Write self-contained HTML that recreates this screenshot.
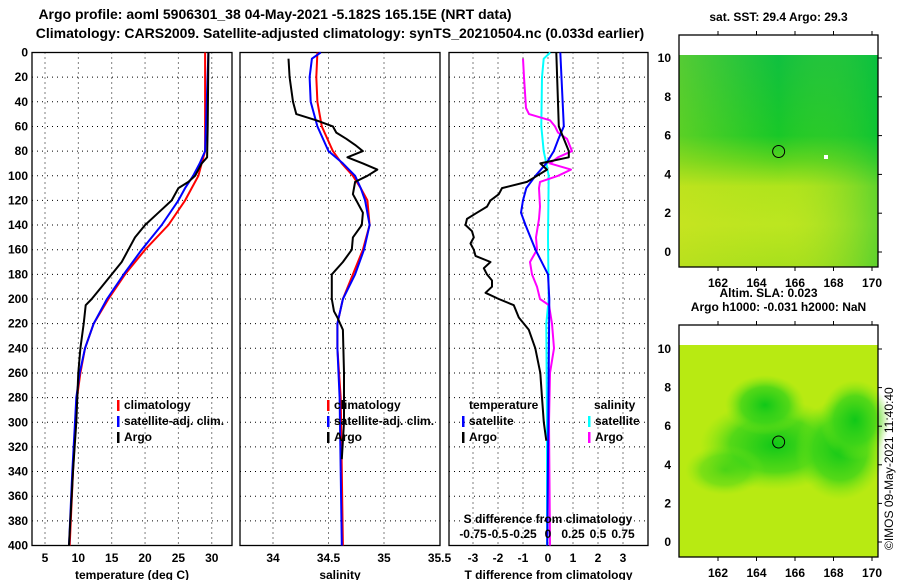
<!DOCTYPE html>
<html><head><meta charset="utf-8"><style>
body{margin:0;background:#fff;}
svg{display:block;font-family:"Liberation Sans",sans-serif;font-weight:bold;}
</style></head><body>
<svg id="c" width="900" height="580" xmlns="http://www.w3.org/2000/svg">
<defs>
<linearGradient id="g1" x1="0" y1="0" x2="0" y2="1">
<stop offset="0" stop-color="#10c040"/><stop offset="0.38" stop-color="#18c828"/><stop offset="0.5" stop-color="#5cd41e"/><stop offset="0.62" stop-color="#b0e41c"/><stop offset="0.8" stop-color="#bce620"/><stop offset="1" stop-color="#a8e01c"/></linearGradient>
<linearGradient id="g1b" x1="0" y1="0" x2="1" y2="0">
<stop offset="0" stop-color="#d8e020" stop-opacity="0.35"/><stop offset="0.5" stop-color="#c8e020" stop-opacity="0"/><stop offset="1" stop-color="#00c040" stop-opacity="0.45"/></linearGradient>
<radialGradient id="blob"><stop offset="0" stop-color="#10c818"/><stop offset="0.6" stop-color="#3cd418" stop-opacity="0.8"/><stop offset="1" stop-color="#7de614" stop-opacity="0"/></radialGradient>
</defs>
<text x="275" y="19" font-size="14" text-anchor="middle">Argo profile: aoml 5906301_38 04-May-2021 -5.182S 165.15E (NRT data)</text>
<text x="340" y="38" font-size="14" text-anchor="middle">Climatology: CARS2009. Satellite-adjusted climatology: synTS_20210504.nc (0.033d earlier)</text>
<g id="plots"></g>
<g id="maps"></g>
<text transform="translate(893,550) rotate(-90)" font-size="12" font-weight="normal">©IMOS 09-May-2021 11:40:40</text>
</svg>
<script>
// ---- data ----
const depthTicks=[0,20,40,60,80,100,120,140,160,180,200,220,240,260,280,300,320,340,360,380,400];
const tTicks=[5,10,15,20,25,30];
const sTicks=[34,34.5,35,35.5];
const dTTicks=[-3,-2,-1,0,1,2,3];
const dSTickLabels=["-0.75","-0.5","-0.25","0","0.25","0.5","0.75"];
const dSTicks=[-0.75,-0.5,-0.25,0,0.25,0.5,0.75];
// temperature
const climTD=[0,80,90,100,110,120,140,160,180,200,220,240,260,280,300,340,400];
const climT=[29.0,29.0,28.5,28.0,27.0,26.0,23.5,20.0,17.0,14.5,12.3,11.0,10.3,9.8,9.6,9.2,8.7];
const satTD=[0,80,90,100,110,120,140,160,180,200,220,240,260,280,300,340,400];
const satT=[29.5,29.0,28.2,27.2,26.0,25.0,22.5,19.5,16.8,14.3,12.3,11.0,10.2,9.7,9.5,9.1,8.6];
const argoTD=[0,60,85,90,100,105,110,120,130,140,150,170,180,190,200,205,220,240,260,300,340,400];
const argoT=[29.5,29.4,29.3,28.5,27.5,26.5,25.0,24.0,22.0,20.0,18.5,16.5,15.0,13.5,12.0,11.1,10.8,10.3,10.0,9.7,9.2,8.6];
// salinity
const climSD=[0,20,40,60,80,90,100,110,120,140,160,180,200,220,240,280,400];
const climS=[34.40,34.39,34.40,34.44,34.54,34.62,34.72,34.79,34.85,34.87,34.81,34.72,34.63,34.58,34.58,34.61,34.63];
const satSD=[0,5,20,40,60,80,90,100,110,120,140,160,180,200,220,240,260,280,400];
const satS=[34.43,34.35,34.33,34.34,34.40,34.50,34.63,34.74,34.79,34.83,34.87,34.82,34.74,34.63,34.58,34.58,34.59,34.60,34.62];
const argoSD=[5,20,40,50,55,60,65,70,75,80,85,90,95,100,105,115,120,130,140,150,160,170,180,190,200,210,215,225,260,300,330];
const argoS=[34.14,34.15,34.18,34.21,34.39,34.54,34.57,34.66,34.74,34.81,34.67,34.81,34.94,34.85,34.74,34.72,34.75,34.81,34.80,34.72,34.71,34.63,34.53,34.53,34.53,34.55,34.58,34.63,34.64,34.64,34.62];
// differences
const satDTD=[0,60,70,80,90,100,110,120,130,140,160,180,200,400];
const satDT=[0.49,0.63,0.42,0.23,-0.07,-0.5,-0.87,-1.0,-1.08,-0.9,-0.5,0,0.05,-0.03];
const argoDTD=[0,60,70,80,85,90,95,100,105,110,115,120,125,130,135,140,145,150,155,160,165,170,175,180,185,190,195,200,205,215,225,240,260,280,300,315];
const argoDT=[0.33,0.43,0.63,0.83,0.83,-0.31,-0.04,-0.44,-0.84,-1.84,-1.97,-2.3,-2.44,-2.84,-3.24,-3.3,-3.04,-2.97,-3.1,-2.97,-2.9,-2.3,-2.57,-2.44,-2.24,-2.24,-2.5,-1.97,-1.37,-1.17,-0.77,-0.51,-0.31,-0.24,-0.17,-0.07];
const satDSD=[0,5,20,60,80,90,100,150,200,220,300,400];
const satDS=[0.023,-0.043,-0.06,-0.067,-0.043,-0.017,0.007,0,0.007,-0.017,-0.01,-0.01];
const argoDSD=[5,20,45,50,55,60,65,70,80,85,90,95,100,105,110,125,135,150,160,170,180,190,200,205,220,240,260,300,400];
const argoDS=[-0.25,-0.24,-0.22,-0.19,0.02,0.07,0.10,0.19,0.24,0.10,0.02,0.23,0.10,-0.08,-0.09,-0.08,-0.09,-0.12,-0.11,-0.18,-0.16,-0.11,-0.08,0.01,0.04,0.06,0.02,0.01,0.02];
// maps
const lonTicks=[162,164,166,168,170];
const latTicks=[0,2,4,6,8,10];
const argoLon=165.15, argoLat=5.18;

// ---- drawing ----
const NS="http://www.w3.org/2000/svg";
function mk(tag,at,parent){const e=document.createElementNS(NS,tag);for(const k in at)e.setAttribute(k,at[k]);parent.appendChild(e);return e;}
const P=document.getElementById('plots');
const yD=d=>52.5+d*1.2325;
const xT=t=>45+(t-5)*6.67;
const xS=s=>273+(s-34)*111;
const xDT=t=>548+25*t;
const xDS=s=>548+100*s;

function panel(x0,x1,name,vticks,xf,labels,xtitle,showDepth){
  const g=mk('g',{},P);
  
  
  depthTicks.forEach(d=>{
    if(d>0&&d<400){mk('line',{x1:x0,x2:x1,y1:yD(d),y2:yD(d),stroke:'#000','stroke-dasharray':'1,4'},g);}
    if(showDepth){const t=mk('text',{x:x0-4,y:yD(d)+4,'font-size':12,'text-anchor':'end'},g);t.textContent=d;
      }
  });
  vticks.forEach((v,i)=>{
    const x=xf(v);
    if(x>x0+1&&x<x1-1) mk('line',{x1:x,x2:x,y1:yD(0),y2:yD(400),stroke:'#000','stroke-dasharray':'1,4'},g);
    const t=mk('text',{x:x,y:562,'font-size':12,'text-anchor':'middle'},g);t.textContent=labels[i];
    
  });
  mk('rect',{x:x0,y:yD(0),width:x1-x0,height:yD(400)-yD(0),fill:'none',stroke:'#000','stroke-width':1.3},g);
  const tt=mk('text',{x:(x0+x1)/2,y:579,'font-size':12,'text-anchor':'middle'},g);tt.textContent=xtitle;
  
  return g;
}
function line(g,xs,ds,xf,col,name,w){
  const pts=xs.map((v,i)=>xf(v).toFixed(1)+','+yD(ds[i]).toFixed(1)).join(' ');
  const p=mk('polyline',{points:pts,fill:'none',stroke:col,'stroke-width':w||2,'stroke-linejoin':'round'},g);
  
  
}
function legend(g,x,y,col,label){
  mk('rect',{x:x,y:y-9,width:2.5,height:11,fill:col},g);
  const t=mk('text',{x:x+7,y:y,'font-size':12},g);t.textContent=label;
  
}
const g1=panel(32,232,'temperature-panel',tTicks,xT,tTicks,'temperature (deg C)',true);
line(g1,climT,climTD,xT,'#f00','climatology-temperature-line');
line(g1,satT,satTD,xT,'#00f','satellite-temperature-line');
line(g1,argoT,argoTD,xT,'#000','argo-temperature-line');
legend(g1,117,409,'#f00','climatology');legend(g1,117,425,'#00f','satellite-adj. clim.');legend(g1,117,441,'#000','Argo');

const g2=panel(240,440,'salinity-panel',sTicks,xS,sTicks,'salinity',false);
line(g2,climS,climSD,xS,'#f00','climatology-salinity-line');
line(g2,satS,satSD,xS,'#00f','satellite-salinity-line');
line(g2,argoS,argoSD,xS,'#000','argo-salinity-line');
legend(g2,327,409,'#f00','climatology');legend(g2,327,425,'#00f','satellite-adj. clim.');legend(g2,327,441,'#000','Argo');

const g3=panel(449,648,'difference-panel',dTTicks,xDT,dTTicks,'T difference from climatology',false);
line(g3,satDS,satDSD,xDS,'#0ff','satellite-salinity-diff-line');
line(g3,argoDS,argoDSD,xDS,'#f0f','argo-salinity-diff-line');
line(g3,satDT,satDTD,xDT,'#00f','satellite-temperature-diff-line');
line(g3,argoDT,argoDTD,xDT,'#000','argo-temperature-diff-line');
{const t=mk('text',{x:469,y:409,'font-size':12},g3);t.textContent='temperature';
 
 const s=mk('text',{x:594,y:409,'font-size':12},g3);s.textContent='salinity';
 }
legend(g3,462,425,'#00f','satellite');legend(g3,462,441,'#000','Argo');
legend(g3,588,425,'#0ff','satellite');legend(g3,588,441,'#f0f','Argo');
{const t=mk('text',{x:548,y:523,'font-size':12,'text-anchor':'middle'},g3);t.textContent='S difference from climatology';
 }
dSTicks.forEach((v,i)=>{const t=mk('text',{x:xDS(v),y:538,'font-size':12,'text-anchor':'middle'},g3);t.textContent=dSTickLabels[i];
 });

// maps
const M=document.getElementById('maps');
function map(top,y10,y0,name,title,fill,below){
  const g=mk('g',{},M);
  
  
  const x0=679,x1=878,bot=top+232;
  const xL=l=>718+(l-162)*(154/8);
  const yL=l=>y0+(y10-y0)*l/10;
  fill(g,x0,top+20,x1,bot);
  mk('rect',{x:x0,y:top,width:x1-x0,height:bot-top,fill:'none',stroke:'#000','stroke-width':1.3},g);
  lonTicks.forEach(l=>{const x=xL(l);mk('line',{x1:x,x2:x,y1:top,y2:top-4,stroke:'#000'},g);mk('line',{x1:x,x2:x,y1:bot,y2:bot+4,stroke:'#000'},g);
    const t=mk('text',{x:x,y:bot+20,'font-size':12,'text-anchor':'middle'},g);t.textContent=l;
    });
  latTicks.forEach(l=>{const y=yL(l);mk('line',{x1:x1,x2:x1+4,y1:y,y2:y,stroke:'#000'},g);
    const t=mk('text',{x:x0-8,y:y+4,'font-size':12,'text-anchor':'end'},g);t.textContent=l;
    });
  const c=mk('circle',{cx:xL(argoLon),cy:yL(argoLat),r:6,fill:'none',stroke:'#000'},g);
  
  const t=mk('text',{x:(x0+x1)/2,y:top-14,'font-size':12,'text-anchor':'middle'},g);t.textContent=title;
  
  if(below){const b=mk('text',{x:(x0+x1)/2-10,y:bot+30,'font-size':12,'text-anchor':'middle'},g);b.textContent=below;
    }
}
map(35,58,252,'sst-map','sat. SST: 29.4 Argo: 29.3',(g,x0,y0,x1,y1)=>{
  mk('rect',{x:x0,y:y0,width:x1-x0,height:y1-y0,fill:'url(#g1)'},g);
  mk('rect',{x:x0,y:y0,width:x1-x0,height:y1-y0,fill:'url(#g1b)'},g);
  mk('rect',{x:824,y:155,width:4,height:4,fill:'#fff'},g);
},'Altim. SLA: 0.023');
map(325,349,542,'sla-map','Argo h1000: -0.031 h2000: NaN',(g,x0,y0,x1,y1)=>{
  mk('rect',{x:x0,y:y0,width:x1-x0,height:y1-y0,fill:'#b8ea12'},g);
  mk('ellipse',{cx:775,cy:445,rx:75,ry:45,fill:'url(#blob)'},g);
  mk('ellipse',{cx:840,cy:450,rx:45,ry:50,fill:'url(#blob)'},g);
  mk('ellipse',{cx:765,cy:405,rx:40,ry:30,fill:'url(#blob)'},g);
  mk('ellipse',{cx:855,cy:420,rx:35,ry:40,fill:'url(#blob)'},g);
  mk('ellipse',{cx:725,cy:470,rx:40,ry:25,fill:'url(#blob)','opacity':0.6},g);
},null);
</script>
</body></html>
